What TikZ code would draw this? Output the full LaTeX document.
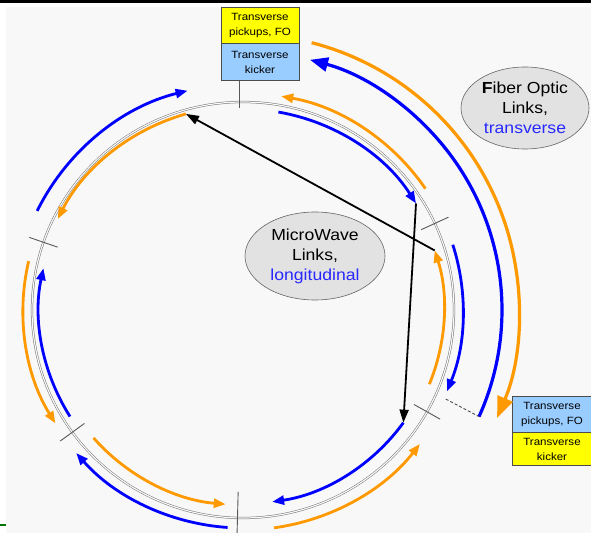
\documentclass[tikz,border=0pt]{standalone}
\usepackage{fontspec}
\newfontfamily\lab[FakeStretch=1.1]{Liberation Sans}
\usetikzlibrary{arrows.meta,calc,shapes.geometric}
\definecolor{bgc}{RGB}{248,248,248}
\definecolor{fob}{RGB}{0,0,255}
\definecolor{foo}{RGB}{255,153,0}
\definecolor{kblue}{RGB}{153,204,255}
\definecolor{kyel}{RGB}{255,255,0}
\definecolor{elfill}{RGB}{226,226,226}
\definecolor{txtblue}{RGB}{40,40,255}
\begin{document}
\begin{tikzpicture}[x=1pt,y=1pt,
  barc/.style={draw=fob, line width=2.8pt, -{Triangle[length=12pt,width=9pt]}},
  oarc/.style={draw=foo, line width=2.8pt, -{Triangle[length=12pt,width=9pt]}},
  bigb/.style={draw=fob, line width=3.2pt, -{Triangle[length=18pt,width=14pt]}},
  bigo/.style={draw=foo, line width=3.2pt, -{Triangle[length=21pt,width=16pt]}},
  mw/.style={draw=black, line width=1.8pt, -{Triangle[length=13pt,width=9pt]}},
  ringline/.style={draw=black!55, double=bgc, double distance=1.2pt, line width=0.5pt},
  tickline/.style={draw=black!65, line width=0.9pt},
  kbox/.style={draw=black!70, line width=0.8pt, minimum width=78pt, inner sep=0pt, align=center, font=\lab\fontsize{10.5}{15}\selectfont},
  linkell/.style={ellipse, draw=black!60, fill=elfill, line width=0.6pt, inner sep=0pt, align=center, font=\lab\fontsize{16}{20}\selectfont},
]
\useasboundingbox (0,0) rectangle (591,533);
% background
\fill[white] (0,0) rectangle (591,533);
\fill[bgc] (6,0) rectangle (591,526);
\fill[black] (0,530.3) rectangle (591,532.6);
\draw[green!45!black, line width=2pt] (0,8.5) -- (6,8.5);
\coordinate (C) at (243,223);
% ring
\draw[ringline] (C) ellipse [x radius=211pt, y radius=208pt];
% ticks
\foreach \a in {24.6,-29.3,161,216}{
  \draw[tickline] ($(C)+(\a:196pt and 193pt)$) -- ($(C)+(\a:226pt and 223pt)$);
}
\draw[tickline] ($(C)+(268.5:185pt and 182pt)$) -- ($(C)+(268.5:226pt and 223pt)$);
% boxes top
\node[kbox, fill=kyel, minimum height=36pt] (pkT) at (260,508) {Transverse\\pickups, FO};
\node[kbox, fill=kblue, minimum height=37pt, anchor=north] (kkT) at (pkT.south) {Transverse\\kicker};
\coordinate (tt) at ($(C)+(91:205pt and 202pt)$);
\draw[tickline] (tt) -- (tt |- kkT.south);
% boxes right
\node[kbox, fill=kblue, minimum height=36pt, minimum width=80pt] (pkR) at (552,119) {Transverse\\pickups, FO};
\node[kbox, fill=kyel, minimum height=33pt, minimum width=80pt, anchor=north] (kkR) at (pkR.south) {Transverse\\kicker};
% sector A
\draw[barc] ($(C)+(154:229pt and 226pt)$) arc[start angle=154,end angle=104,x radius=229pt,y radius=226pt];
\draw[oarc] ($(C)+(106:207pt and 204pt)$) coordinate (oAs) arc[start angle=106,end angle=153.5,x radius=207pt,y radius=204pt];
% sector B
\draw[oarc] ($(C)+(34:220pt and 217pt)$) arc[start angle=34,end angle=80,x radius=220pt,y radius=217pt];
\draw[barc] ($(C)+(80:204pt and 201pt)$) arc[start angle=80,end angle=32,x radius=204pt,y radius=201pt] coordinate (bBe);
% sector C
\draw[oarc] ($(C)+(-22:201pt and 198pt)$) arc[start angle=-22,end angle=17.5,x radius=201pt,y radius=198pt] coordinate (oCe);
\draw[barc] ($(C)+(17.5:220pt and 217pt)$) arc[start angle=17.5,end angle=-22,x radius=220pt,y radius=217pt];
% sector D
\draw[barc] ($(C)+(-35.5:197pt and 194pt)$) coordinate (bDs) arc[start angle=-35.5,end angle=-81.5,x radius=197pt,y radius=194pt];
\draw[oarc] ($(C)+(-82:223pt and 220pt)$) arc[start angle=-82,end angle=-37.5,x radius=223pt,y radius=220pt];
% sector E
\draw[oarc] ($(C)+(221:198pt and 195pt)$) arc[start angle=221,end angle=265,x radius=198pt,y radius=195pt];
\draw[barc] ($(C)+(266:221pt and 218pt)$) arc[start angle=266,end angle=221,x radius=221pt,y radius=218pt];
% sector F
\draw[oarc] ($(C)+(167:220pt and 217pt)$) arc[start angle=167,end angle=211.5,x radius=220pt,y radius=217pt];
\draw[barc] ($(C)+(212:204pt and 201pt)$) arc[start angle=212,end angle=168,x radius=204pt,y radius=201pt];
% fiber optic long arcs
\draw[bigo] ($(C)+(75.6:276pt)$) arc[start angle=75.6,end angle=-23,radius=276pt];
\draw[bigb] ($(C)+(-24.3:259pt)$) coordinate (bFs) arc[start angle=-24.3,end angle=75,radius=259pt];
\coordinate (dsh) at ($(C)+(-24:222pt and 219pt)$);
\draw[black!70, line width=0.9pt, dash pattern=on 3pt off 2pt] (dsh) -- (bFs);
% microwave links
\draw[mw] (oCe) -- (oAs);
\draw[mw] (bBe) -- (bDs);
% ellipses
\node[linkell, minimum width=128pt, minimum height=82pt] (fo) at (525,425) {\textbf{F}iber Optic\\Links,\\{\color{txtblue}transverse}};
\node[linkell, minimum width=140pt, minimum height=88pt] (mwl) at (315,277) {MicroWave\\Links,\\{\color{txtblue}longitudinal}};
\end{tikzpicture}
\end{document}
